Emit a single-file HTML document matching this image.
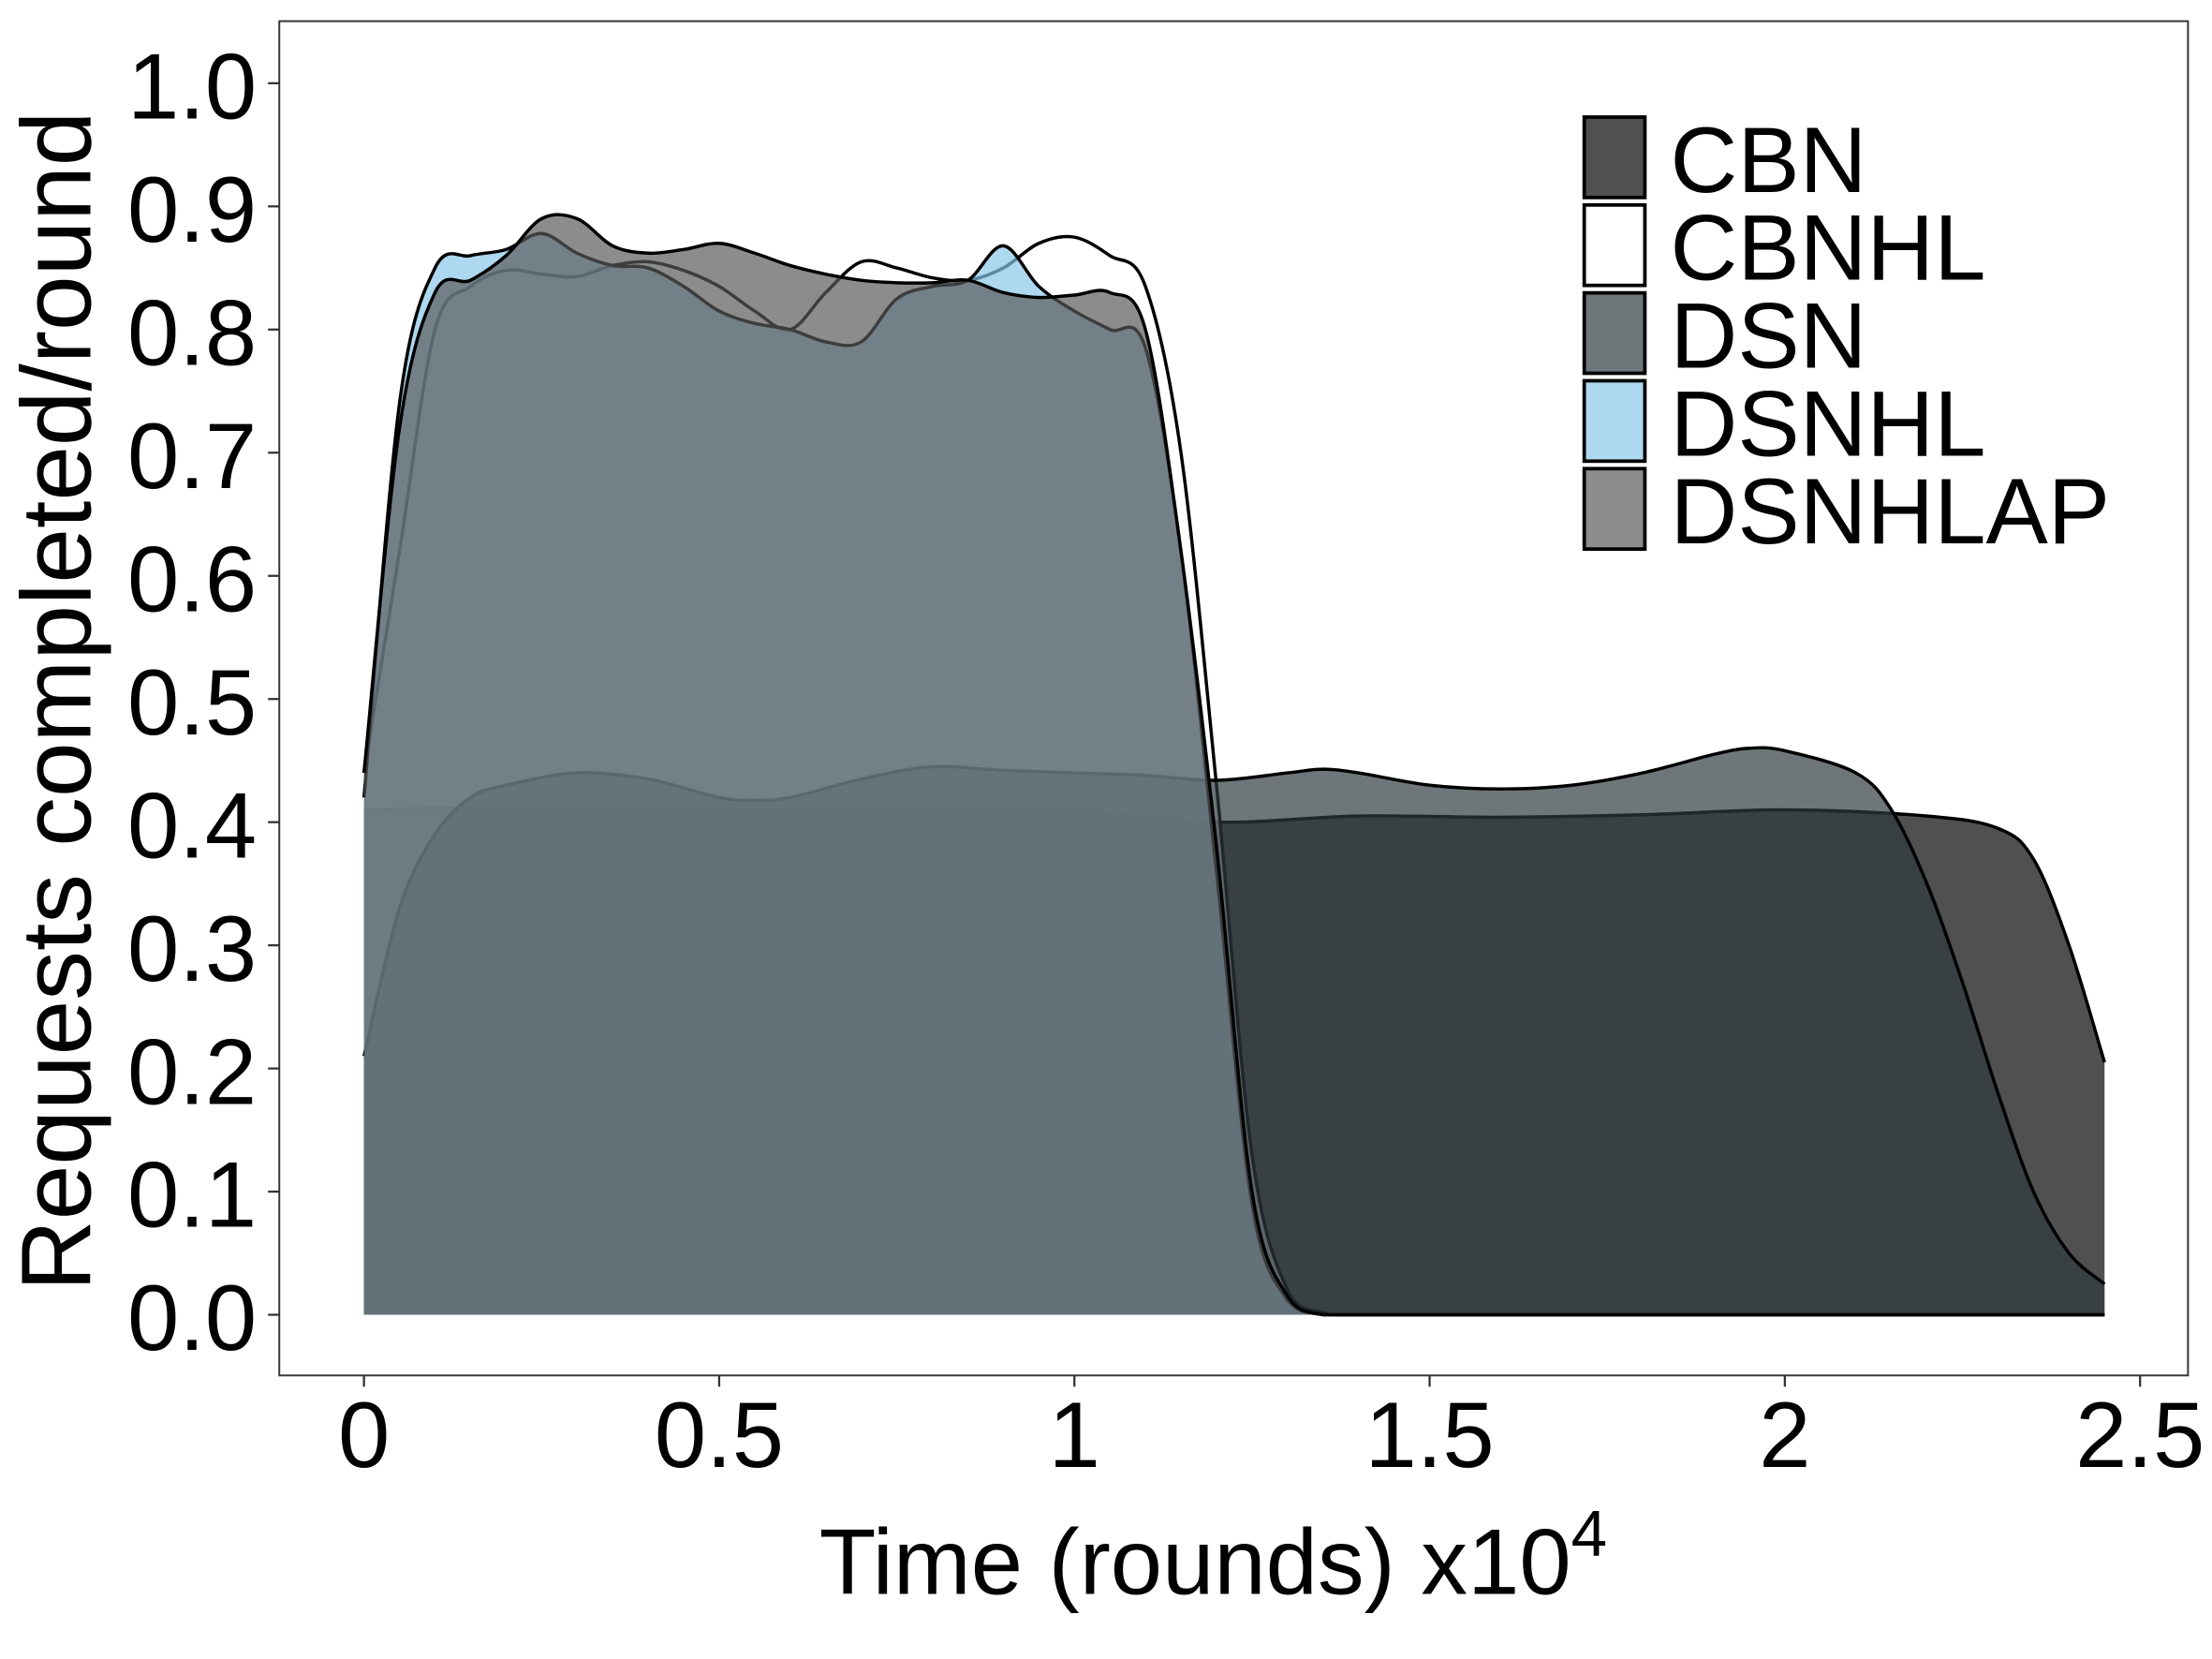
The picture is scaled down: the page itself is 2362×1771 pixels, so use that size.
<!DOCTYPE html>
<html><head><meta charset="utf-8"><style>
html,body{margin:0;padding:0;background:#fff;}
svg{display:block;}
text{font-family:"Liberation Sans",sans-serif;fill:#000;}
</style></head><body>
<svg id="chart" width="2362" height="1771" viewBox="0 0 1568 1176" preserveAspectRatio="none" xmlns="http://www.w3.org/2000/svg">
<rect x="198" y="15" width="1353" height="960" fill="#fff" stroke="#333" stroke-width="1.3"/>
<g id="series"></g>
<g id="axes"></g>
<text x="860" y="1130" font-size="66" text-anchor="middle">Time (rounds) x10<tspan font-size="46" dy="-27">4</tspan></text>
<text transform="translate(64,497) rotate(-90)" font-size="70" text-anchor="middle">Requests completed/round</text>
<g id="legend"></g>
</svg>
<script>
const seriesNames = ["CBN","CBNHL","DSN","DSNHL","DSNHLAP"];
const fills = ["rgb(2,2,2)","rgb(255,255,255)","rgb(47,57,61)","rgb(136,199,232)","rgb(88,88,88)"];
const xTicks = [0,0.5,1,1.5,2,2.5];
const xTickLabels = ["0","0.5","1","1.5","2","2.5"];
const yTicks = [0,0.1,0.2,0.3,0.4,0.5,0.6,0.7,0.8,0.9,1.0];
const yTickLabels = ["0.0","0.1","0.2","0.3","0.4","0.5","0.6","0.7","0.8","0.9","1.0"];

const cbnX = [0,0.2,0.4,0.6,0.8,1.0,1.2,1.4,1.6,1.8,2.0,2.2,2.3,2.35,2.4,2.45];
const cbnY = [0.41,0.412,0.412,0.41,0.41,0.41,0.40,0.405,0.404,0.406,0.41,0.405,0.395,0.37,0.30,0.205];

const topX = [0,0.05,0.1,0.15,0.2,0.25,0.3,0.35,0.4,0.45,0.5,0.55,0.6,0.65,0.7,0.75,0.8,0.85,0.9,0.95,1.0,1.05,1.1,1.15,1.2,1.25,1.3,1.35,1.4,1.8,2.45];
const cbnhlY = [0.44,0.62,0.80,0.835,0.848,0.845,0.843,0.852,0.855,0.848,0.835,0.815,0.80,0.83,0.855,0.85,0.842,0.84,0.85,0.87,0.875,0.86,0.835,0.70,0.43,0.13,0.02,0.002,0,0,0];
const dsnhlY = [0.42,0.74,0.85,0.86,0.865,0.878,0.862,0.852,0.85,0.835,0.815,0.805,0.80,0.79,0.79,0.825,0.835,0.84,0.868,0.835,0.815,0.80,0.785,0.62,0.36,0.09,0.012,0,0,0,0];
const dsnhlapY = [0.44,0.72,0.83,0.84,0.86,0.89,0.89,0.868,0.862,0.865,0.87,0.862,0.852,0.845,0.84,0.838,0.838,0.84,0.83,0.826,0.828,0.83,0.80,0.62,0.38,0.10,0.015,0,0,0,0];

const dsnX = [0,0.05,0.1,0.15,0.2,0.3,0.4,0.5,0.55,0.6,0.7,0.8,0.9,1.0,1.1,1.2,1.3,1.35,1.4,1.5,1.6,1.7,1.8,1.9,1.95,2.0,2.1,2.15,2.2,2.25,2.3,2.35,2.4,2.45];
const dsnY = [0.21,0.33,0.39,0.42,0.43,0.44,0.435,0.42,0.418,0.42,0.435,0.445,0.442,0.44,0.438,0.434,0.44,0.443,0.44,0.43,0.427,0.43,0.44,0.455,0.46,0.458,0.44,0.41,0.35,0.27,0.18,0.10,0.05,0.025];

const seriesX = [cbnX, topX, dsnX, topX, topX];
const seriesY = [cbnY, cbnhlY, dsnY, dsnhlY, dsnhlapY];

const X0=258, XS=503.6, Y0=932, YS=873;
function sx(v){return X0+v*XS;}
function sy(v){return Y0-v*YS;}
const NS="http://www.w3.org/2000/svg";
function mk(tag,attrs,parent){const e=document.createElementNS(NS,tag);for(const k in attrs)e.setAttribute(k,attrs[k]);parent.appendChild(e);return e;}

function smoothPath(pts){
  let d="M"+pts[0][0].toFixed(2)+","+pts[0][1].toFixed(2);
  for(let i=0;i<pts.length-1;i++){
    const p0=pts[Math.max(0,i-1)],p1=pts[i],p2=pts[i+1],p3=pts[Math.min(pts.length-1,i+2)];
    const c1x=p1[0]+(p2[0]-p0[0])/6, c1y=Math.min(Y0,p1[1]+(p2[1]-p0[1])/6);
    const c2x=p2[0]-(p3[0]-p1[0])/6, c2y=Math.min(Y0,p2[1]-(p3[1]-p1[1])/6);
    d+=" C"+c1x.toFixed(2)+","+c1y.toFixed(2)+" "+c2x.toFixed(2)+","+c2y.toFixed(2)+" "+p2[0].toFixed(2)+","+p2[1].toFixed(2);
  }
  return d;
}

const sg=document.getElementById("series");
for(let s=0;s<seriesNames.length;s++){
  const xs=seriesX[s], ys=seriesY[s];
  const pts=xs.map((x,i)=>[sx(x),sy(ys[i])]);
  const line=smoothPath(pts);
  const area=line+" L"+sx(xs[xs.length-1]).toFixed(2)+","+sy(0)+" L"+sx(xs[0]).toFixed(2)+","+sy(0)+" Z";
  const a=mk("path",{d:area,fill:fills[s],"fill-opacity":0.69,stroke:"none"},sg);
  
  
  const l=mk("path",{d:line,fill:"none",stroke:"#000","stroke-width":2.3},sg);
  
  
}

const ag=document.getElementById("axes");
xTicks.forEach((v,i)=>{
  const t=mk("line",{x1:sx(v),x2:sx(v),y1:975,y2:983,stroke:"#333","stroke-width":1.5},ag);
  
  
  const lb=mk("text",{x:sx(v),y:1040,"font-size":66,"text-anchor":"middle"},ag);
  lb.textContent=xTickLabels[i];
  
  
});
yTicks.forEach((v,i)=>{
  const t=mk("line",{x1:190,x2:198,y1:sy(v),y2:sy(v),stroke:"#333","stroke-width":1.5},ag);
  
  
  const lb=mk("text",{x:182,y:sy(v)+25,"font-size":66,"text-anchor":"end"},ag);
  lb.textContent=yTickLabels[i];
  
  
});

const lg=document.getElementById("legend");
seriesNames.forEach((n,i)=>{
  const y=83+i*62.3;
  const k=mk("rect",{x:1123,y:y,width:43,height:57,fill:fills[i],"fill-opacity":0.69,stroke:"#000","stroke-width":2.5},lg);
  
  
  const t=mk("text",{x:1184,y:y+53,"font-size":66},lg);
  t.textContent=n;
  
  
});
</script>
</body></html>
